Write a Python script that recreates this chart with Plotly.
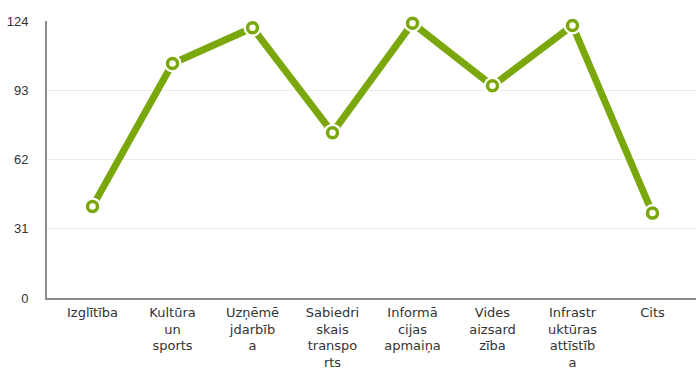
import plotly.graph_objects as go

# Category labels (wrapped as in the chart) and their counts
categories = [
    "Izglītība",
    "Kultūra<br>un<br>sports",
    "Uzņēmē<br>jdarbīb<br>a",
    "Sabiedri<br>skais<br>transpo<br>rts",
    "Informā<br>cijas<br>apmaiņa",
    "Vides<br>aizsard<br>zība",
    "Infrastr<br>uktūras<br>attīstīb<br>a",
    "Cits",
]
values = [41, 105, 121, 74, 123, 95, 122, 38]
y_ticks = [0, 31, 62, 93, 124]

GREEN = "#7aa70b"
TEXT = "#333333"
AXIS = "#8c8c8c"
GRID = "#ebebeb"

x_idx = list(range(len(categories)))

fig = go.Figure()
fig.add_trace(go.Scatter(
    x=x_idx, y=values, mode="lines",
    line=dict(color=GREEN, width=7), hoverinfo="skip", showlegend=False,
    cliponaxis=False,
))
# white halo separating the line from each point marker
fig.add_trace(go.Scatter(
    x=x_idx, y=values, mode="markers",
    marker=dict(size=18, color="white", line=dict(width=0)),
    hoverinfo="skip", showlegend=False, cliponaxis=False,
))
fig.add_trace(go.Scatter(
    x=x_idx, y=values, mode="markers",
    marker=dict(size=10, color="white", line=dict(width=3.5, color=GREEN)),
    showlegend=False, cliponaxis=False,
))

fig.update_layout(
    width=696, height=372,
    margin=dict(l=47, r=0, t=21, b=74, autoexpand=False),
    paper_bgcolor="white", plot_bgcolor="white",
    font=dict(family="DejaVu Sans", size=13, color=TEXT),
    xaxis=dict(
        range=[-0.569, 7.544], automargin=False,
        tickmode="array", tickvals=x_idx, ticktext=categories,
        showgrid=False, zeroline=False,
        showline=True, linecolor=AXIS, linewidth=2,
        ticks="", tickangle=0, ticklabelstandoff=1,
        tickfont=dict(family="DejaVu Sans", size=13, color=TEXT),
    ),
    yaxis=dict(
        range=[0, 124], automargin=False,
        tickmode="array", tickvals=y_ticks,
        showgrid=True, gridcolor=GRID, gridwidth=1,
        zeroline=False,
        showline=True, linecolor=AXIS, linewidth=2,
        ticks="", ticklabelstandoff=14,
        tickfont=dict(family="Liberation Sans", size=13, color=TEXT),
    ),
)

fig.write_html("out.html")
